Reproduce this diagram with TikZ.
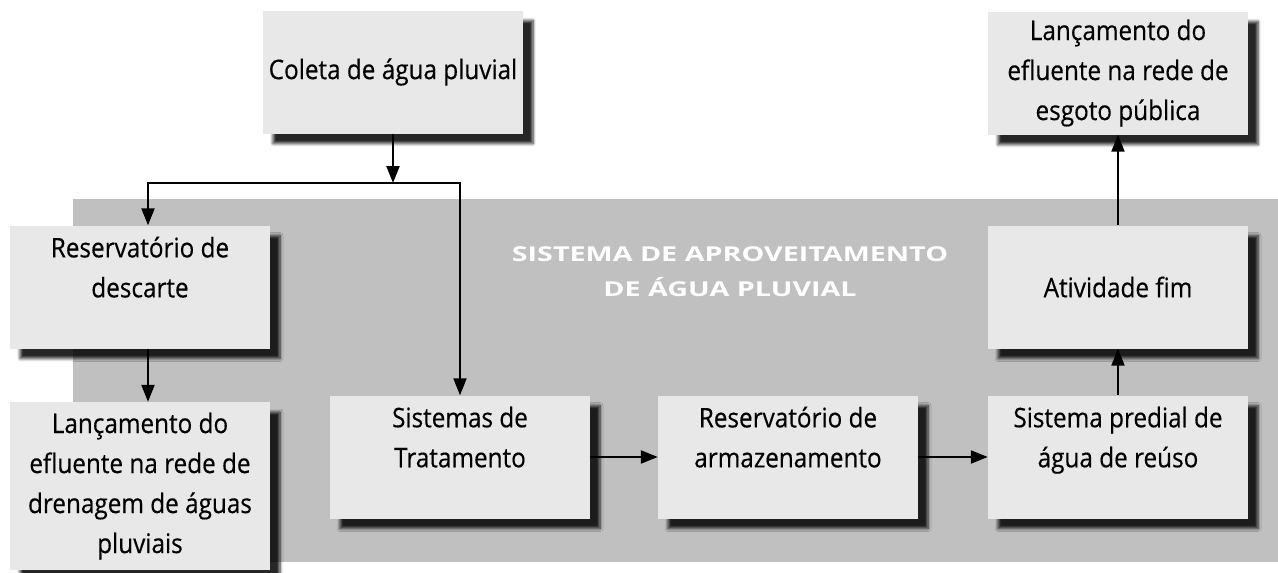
\documentclass[tikz,border=0pt]{standalone}
\usepackage{fontspec}
\setmainfont{Open Sans}
\newfontfamily\caixafont{Open Sans}[FakeStretch=0.9, FakeBold=0.4]
\newfontfamily\titulofont{Open Sans}[FakeStretch=1.4]
\usetikzlibrary{arrows.meta, shadows.blur}

\definecolor{fundo}{HTML}{C0C0C0}
\definecolor{caixa}{HTML}{E8E8E8}

\tikzset{
  etapa/.style={fill=caixa, minimum width=260pt, minimum height=123pt, inner sep=2pt, align=center,
    font=\caixafont\fontsize{27}{40}\selectfont,
    blur shadow={shadow xshift=10pt, shadow yshift=-10pt, shadow blur radius=3pt, shadow blur steps=6, shadow opacity=85}},
  seta/.style={line width=2.2pt, -{Triangle[length=17pt, width=13pt]}},
  titulo/.style={text=white, align=center, font=\titulofont\bfseries\fontsize{20.5}{35}\selectfont}
}

\begin{document}
\begin{tikzpicture}[x=1pt, y=-1pt]
  \useasboundingbox (0,0) rectangle (1278,573);
  \fill[fundo] (73,199) rectangle (1278,562);

  \node[titulo] (sistema) at (730,272) {SISTEMA DE APROVEITAMENTO\\DE ÁGUA PLUVIAL};

  \node[etapa] (coleta) at (393,72) {Coleta de água pluvial};
  \node[etapa] (descarte) at (140,287) {Reservatório de\\descarte\\~};
  \node[etapa, minimum height=168pt] (drenagem) at (140,486) {Lançamento do\\efluente na rede de\\drenagem de águas\\pluviais};
  \node[etapa] (tratamento) at (460,457) {Sistemas de\\Tratamento\\~};
  \node[etapa] (armazenamento) at (788,457) {Reservatório de\\armazenamento\\~};
  \node[etapa] (predial) at (1118,457) {Sistema predial de\\água de reúso\\~};
  \node[etapa] (atividade) at (1118,287) {Atividade fim};
  \node[etapa] (esgoto) at (1118,73) {Lançamento do\\efluente na rede de\\esgoto pública};

  \coordinate (juncao) at (393,183);

  \draw[seta] (coleta) -- (juncao);
  \draw[seta] (juncao) -| ([xshift=8pt]descarte.north);
  \draw[seta] (juncao) -| (tratamento.north);
  \draw[seta] ([xshift=8pt]descarte.south) -- ([xshift=8pt]drenagem.north);
  \draw[seta] (tratamento) -- (armazenamento);
  \draw[seta] (armazenamento) -- (predial);
  \draw[seta] (predial) -- (atividade);
  \draw[seta] (atividade) -- (esgoto);
\end{tikzpicture}
\end{document}
